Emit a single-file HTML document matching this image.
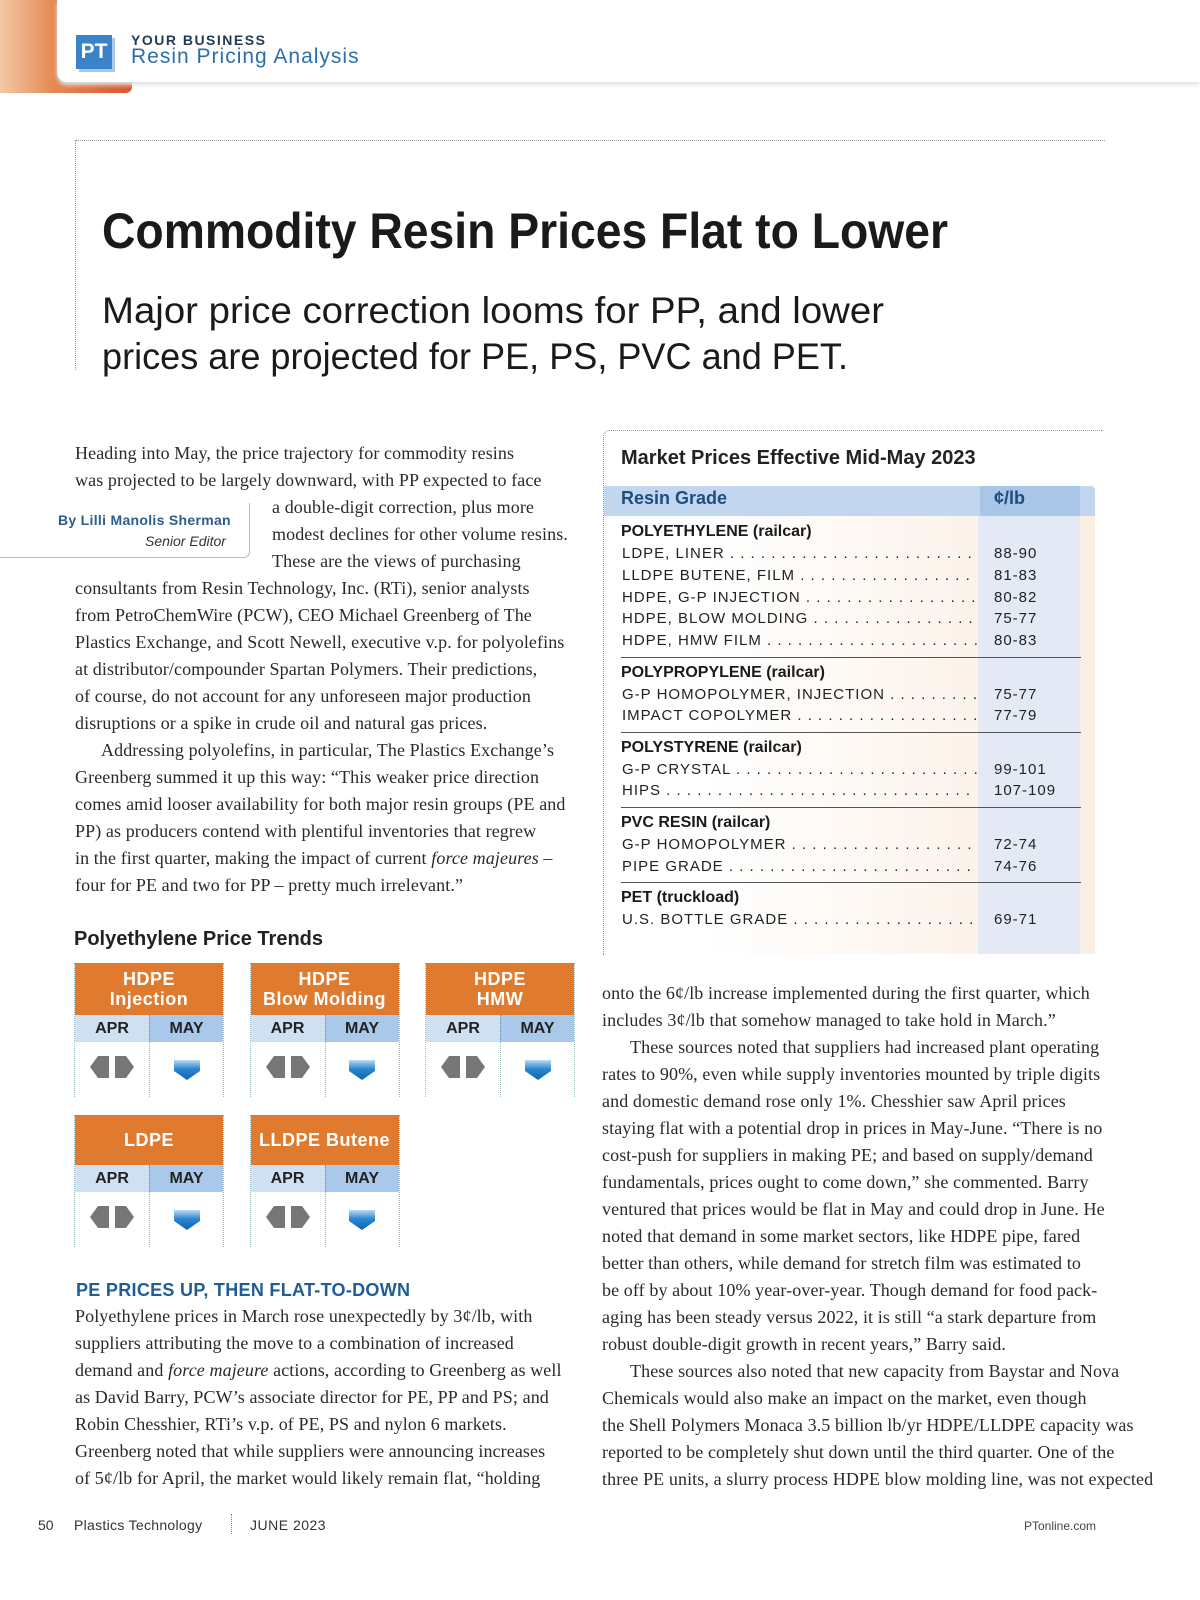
<!DOCTYPE html>
<html><head><meta charset="utf-8">
<style>
*{margin:0;padding:0;box-sizing:border-box}
body{width:1200px;height:1600px;background:#fff;position:relative;overflow:hidden;font-family:"Liberation Sans",sans-serif;color:#222}
.abs{position:absolute;white-space:nowrap}
.serif{font-family:"Liberation Serif",serif;font-size:18px;letter-spacing:0.1px;color:#2a2a2a}
.fit{transform-origin:left center;display:inline-block}
.tb{font-size:15px;letter-spacing:1px;color:#222}
.lead{position:absolute;left:622px;width:355px;overflow:hidden;white-space:nowrap;font-size:15px;letter-spacing:1px}
.lead:after{content:" . . . . . . . . . . . . . . . . . . . . . . . . . . . . . . . . . . . . . . . . . . . . . . . . . . . . . . . . ."}
</style></head><body>
<div class="abs" style="left:0;top:0;width:132px;height:93px;background:linear-gradient(90deg,#f2c9a6,#e58a52 40%,#d9562e);border-radius:0 0 6px 0"></div>
<div class="abs" style="left:57px;top:0;width:1143px;height:82px;background:#fff;border-radius:0 0 0 10px;box-shadow:0 3px 4px #dfe3ea"></div>
<div class="abs" style="left:76px;top:35px;width:36px;height:34px;background:#3b83c8;color:#fff;font-weight:bold;font-size:21px;text-align:center;line-height:34px;box-shadow:3px 3px 0 #a9c7e6">PT</div>
<div class="abs" style="left:131px;top:32px;font-size:14px;font-weight:bold;letter-spacing:1.5px;color:#243b55">YOUR BUSINESS</div>
<div class="abs" style="left:131px;top:45px;font-size:21px;letter-spacing:1px;color:#2c6fa8">Resin Pricing Analysis</div>

<div class="abs" style="left:75px;top:140px;width:1030px;height:230px;border-left:1px dotted #999;border-top:1px dotted #999"></div>
<div class="abs fit" data-w="846" style="left:102px;top:202px;font-size:50px;font-weight:bold;color:#1a1a1a">Commodity Resin Prices Flat to Lower</div>
<div class="abs fit" data-w="782" style="left:102px;top:290px;font-size:37px;color:#1a1a1a">Major price correction looms for PP, and lower</div>
<div class="abs fit" data-w="746" style="left:102px;top:336px;font-size:37px;color:#1a1a1a">prices are projected for PE, PS, PVC and PET.</div>

<div class="abs" style="left:0;top:503px;width:250px;height:55px;border-right:1px solid #bbb;border-bottom:1px solid #bbb;border-radius:0 0 6px 0"></div>
<div class="abs" style="left:58px;top:512px;font-size:14px;font-weight:bold;color:#2c5d8f;letter-spacing:.3px">By Lilli Manolis Sherman</div>
<div class="abs" style="left:145px;top:533px;font-size:14px;font-style:italic;color:#333">Senior Editor</div>

<div id="leftcol"></div>
<div id="rightcol"></div>

<div class="abs" style="left:74px;top:928px;font-size:20px;font-weight:bold;color:#222">Polyethylene Price Trends</div>
<div id="trends"></div>

<div class="abs" style="left:76px;top:1280px;font-size:18px;font-weight:bold;color:#1f5d96;letter-spacing:.3px">PE PRICES UP, THEN FLAT-TO-DOWN</div>

<div class="abs" style="left:603px;top:430px;width:500px;height:525px;border-left:1px dotted #999;border-top:1px dotted #999;border-radius:6px 0 0 0"></div>
<div class="abs" style="left:604px;top:516px;width:491px;height:438px;background:linear-gradient(90deg,#fff 20%,#fbeee2)"></div>
<div class="abs" style="left:978px;top:516px;width:102px;height:438px;background:#e3eaf5"></div>
<div class="abs" style="left:621px;top:447px;font-size:20px;font-weight:bold;color:#222">Market Prices Effective Mid-May 2023</div>
<div class="abs" style="left:604px;top:486px;width:491px;height:30px;background:#c2d7ef;border-radius:0 4px 0 0"></div>
<div class="abs" style="left:980px;top:486px;width:100px;height:30px;background:#a9c6e8"></div>
<div class="abs" style="left:621px;top:488px;font-size:18px;font-weight:bold;color:#1d4e80">Resin Grade</div>
<div class="abs" style="left:994px;top:488px;font-size:18px;font-weight:bold;color:#1d4e80">¢/lb</div>
<div id="table"></div>

<div class="abs" style="left:38px;top:1517px;font-size:14px;color:#333">50</div>
<div class="abs" style="left:74px;top:1517px;font-size:14px;color:#333;letter-spacing:.3px">Plastics Technology</div>
<div class="abs" style="left:231px;top:1514px;height:20px;border-left:1px dotted #888"></div>
<div class="abs" style="left:250px;top:1517px;font-size:14px;color:#333;letter-spacing:.5px">JUNE 2023</div>
<div class="abs" style="left:1024px;top:1519px;font-size:12px;color:#444">PTonline.com</div>

<script>
const leftLines=[
[75,455,"Heading into May, the price trajectory for commodity resins"],
[75,482,"was projected to be largely downward, with PP expected to face"],
[272,509,"a double-digit correction, plus more"],
[272,536,"modest declines for other volume resins."],
[272,563,"These are the views of purchasing"],
[75,590,"consultants from Resin Technology, Inc. (RTi), senior analysts"],
[75,617,"from PetroChemWire (PCW), CEO Michael Greenberg of The"],
[75,644,"Plastics Exchange, and Scott Newell, executive v.p. for polyolefins"],
[75,671,"at distributor/compounder Spartan Polymers. Their predictions,"],
[75,698,"of course, do not account for any unforeseen major production"],
[75,725,"disruptions or a spike in crude oil and natural gas prices."],
[101,752,"Addressing polyolefins, in particular, The Plastics Exchange’s"],
[75,779,"Greenberg summed it up this way: “This weaker price direction"],
[75,806,"comes amid looser availability for both major resin groups (PE and"],
[75,833,"PP) as producers contend with plentiful inventories that regrew"],
[75,860,"in the first quarter, making the impact of current <i>force majeures</i> –"],
[75,887,"four for PE and two for PP – pretty much irrelevant.”"],
[75,1318,"Polyethylene prices in March rose unexpectedly by 3¢/lb, with"],
[75,1345,"suppliers attributing the move to a combination of increased"],
[75,1372,"demand and <i>force majeure</i> actions, according to Greenberg as well"],
[75,1399,"as David Barry, PCW’s associate director for PE, PP and PS; and"],
[75,1426,"Robin Chesshier, RTi’s v.p. of PE, PS and nylon 6 markets."],
[75,1453,"Greenberg noted that while suppliers were announcing increases"],
[75,1480,"of 5¢/lb for April, the market would likely remain flat, “holding"]
];
const rightLines=[
[602,995,"onto the 6¢/lb increase implemented during the first quarter, which"],
[602,1022,"includes 3¢/lb that somehow managed to take hold in March.”"],
[630,1049,"These sources noted that suppliers had increased plant operating"],
[602,1076,"rates to 90%, even while supply inventories mounted by triple digits"],
[602,1103,"and domestic demand rose only 1%. Chesshier saw April prices"],
[602,1130,"staying flat with a potential drop in prices in May-June. “There is no"],
[602,1157,"cost-push for suppliers in making PE; and based on supply/demand"],
[602,1184,"fundamentals, prices ought to come down,” she commented. Barry"],
[602,1211,"ventured that prices would be flat in May and could drop in June. He"],
[602,1238,"noted that demand in some market sectors, like HDPE pipe, fared"],
[602,1265,"better than others, while demand for stretch film was estimated to"],
[602,1292,"be off by about 10% year-over-year. Though demand for food pack-"],
[602,1319,"aging has been steady versus 2022, it is still “a stark departure from"],
[602,1346,"robust double-digit growth in recent years,” Barry said."],
[630,1373,"These sources also noted that new capacity from Baystar and Nova"],
[602,1400,"Chemicals would also make an impact on the market, even though"],
[602,1427,"the Shell Polymers Monaca 3.5 billion lb/yr HDPE/LLDPE capacity was"],
[602,1454,"reported to be completely shut down until the third quarter. One of the"],
[602,1481,"three PE units, a slurry process HDPE blow molding line, was not expected"]
];
function addLines(host,lines,name){
  lines.forEach((l,i)=>{
    const d=document.createElement('div');
    d.className='abs serif';
    d.style.left=l[0]+'px';d.style.top=(l[1]-12)+'px';
    d.innerHTML=l[2];
    
    
    host.appendChild(d);
  });
}
addLines(document.getElementById('leftcol'),leftLines,'left-text');
addLines(document.getElementById('rightcol'),rightLines,'right-text');

const trendProducts=["HDPE<br>Injection","HDPE<br>Blow Molding","HDPE<br>HMW","LDPE","LLDPE Butene"];
const trendMonths=["APR","MAY"];
const aprTrend=["flat","flat","flat","flat","flat"];
const mayTrend=["down","down","down","down","down"];
const tg=document.getElementById('trends');
function icon(t){
  if(t==='flat') return '<svg width="46" height="24" viewBox="0 0 46 24"><path d="M20 1 L20 23 L9 23 L1 12 L9 1 Z" fill="#777"/><path d="M26 1 L26 23 L37 23 L45 12 L37 1 Z" fill="#777"/></svg>';
  if(t==='down') return '<svg width="28" height="22" viewBox="0 0 28 22"><defs><linearGradient id="gd" x1="0" y1="0" x2="0" y2="1"><stop offset="0" stop-color="#bfd9f3"/><stop offset=".45" stop-color="#2b86d1"/><stop offset="1" stop-color="#0b63b5"/></linearGradient></defs><path d="M1 1 H27 V12 L14 21 L1 12 Z" fill="url(#gd)"/></svg>';
  return '<svg width="28" height="22" viewBox="0 0 28 22"><path d="M1 21 H27 V10 L14 1 L1 10 Z" fill="#e07a2e"/></svg>';
}
trendProducts.forEach((p,i)=>{
  const col=i<3?i:i-3, row=i<3?0:1;
  const x=74+col*175.5, y=row?1115:963, hh=row?50:52;
  const box=document.createElement('div');
  box.className='abs';
  box.style.cssText=`left:${x}px;top:${y}px;width:150px;height:${hh+82}px;border-left:1px dotted #9bb;border-right:1px dotted #9bb`;
  
  
  let h=`<div style="height:${hh}px;background:#e07a2e;color:#fff;font-weight:bold;font-size:18px;line-height:20px;text-align:center;display:flex;align-items:center;justify-content:center;letter-spacing:.5px">${p}</div>`;
  h+=`<div style="display:flex;height:27px;font-size:16px;font-weight:bold;line-height:27px;text-align:center;color:#222"><div style="width:75px;background:#cfe0f3">${trendMonths[0]}</div><div style="width:75px;background:#a9c8ea;border-left:1px dotted #789">${trendMonths[1]}</div></div>`;
  h+=`<div style="display:flex;height:55px;align-items:center"><div style="width:75px;text-align:center">${icon(aprTrend[i])}</div><div style="width:75px;text-align:center;border-left:1px dotted #9bb;height:55px;display:flex;align-items:center;justify-content:center">${icon(mayTrend[i])}</div></div>`;
  box.innerHTML=h;
  tg.appendChild(box);
});

const tableGroups=["POLYETHYLENE (railcar)","POLYPROPYLENE (railcar)","POLYSTYRENE (railcar)","PVC RESIN (railcar)","PET (truckload)"];
const tableGrades=[["LDPE, LINER","LLDPE BUTENE, FILM","HDPE, G-P INJECTION","HDPE, BLOW MOLDING","HDPE, HMW FILM"],["G-P HOMOPOLYMER, INJECTION","IMPACT COPOLYMER"],["G-P CRYSTAL","HIPS"],["G-P HOMOPOLYMER","PIPE GRADE"],["U.S. BOTTLE GRADE"]];
const tablePrices=[["88-90","81-83","80-82","75-77","80-83"],["75-77","77-79"],["99-101","107-109"],["72-74","74-76"],["69-71"]];
const tb=document.getElementById('table');
let y=533;
tableGroups.forEach((g,gi)=>{
  const gh=document.createElement('div');
  gh.className='abs';
  gh.style.cssText=`left:621px;top:${y-10}px;font-size:16px;font-weight:bold;color:#1a1a1a`;
  gh.textContent=g;
  
  
  tb.appendChild(gh);
  y+=22;
  tableGrades[gi].forEach((r,ri)=>{
    const l=document.createElement('div');
    l.className='lead';
    l.style.top=(y-10)+'px';
    l.textContent=r;
    
    
    tb.appendChild(l);
    const v=document.createElement('div');
    v.className='abs tb';
    v.style.cssText=`left:994px;top:${y-10}px`;
    v.textContent=tablePrices[gi][ri];
    
    
    tb.appendChild(v);
    y+=21.8;
  });
  if(gi<tableGroups.length-1){
    const s=document.createElement('div');
    s.className='abs';
    s.style.cssText=`left:621px;top:${y-7}px;width:460px;border-top:1px solid #555`;
    
    
    tb.appendChild(s);
  }
  y+=9.5;
});

document.querySelectorAll('.fit').forEach(e=>{
  const w=+e.getAttribute('data-w');const a=e.getBoundingClientRect().width;
  if(a>0) e.style.transform='scaleX('+(w/a)+')';
});
</script>
</body></html>
